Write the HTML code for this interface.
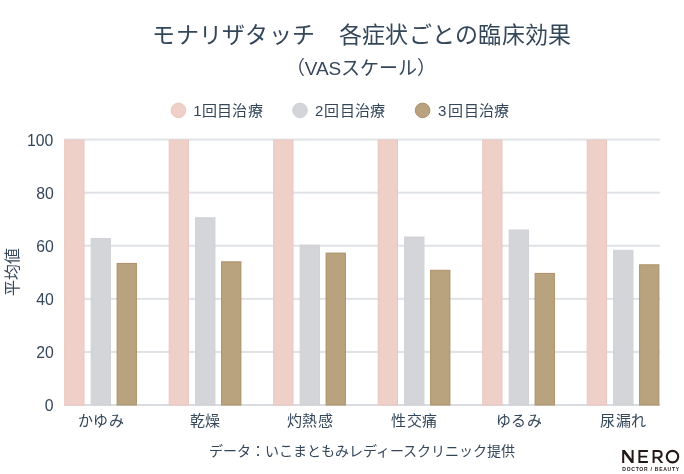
<!DOCTYPE html>
<html lang="zh-CN"><head><meta charset="utf-8">
<style>
html,body{margin:0;padding:0;background:#fff;}
body{width:684px;height:474px;position:relative;overflow:hidden;font-family:"Liberation Sans",sans-serif;color:#34475a;}
.t{position:absolute;white-space:nowrap;}
#txt{position:absolute;left:0;top:0;width:684px;height:474px;will-change:transform;}
#title{left:0;width:724px;top:18.5px;text-align:center;font-size:23px;letter-spacing:0.3px;line-height:32px;}
#sub{left:-1px;width:724px;top:56px;text-align:center;font-size:19px;line-height:26px;}
.lg{position:absolute;top:101px;font-size:15px;line-height:20px;white-space:nowrap;}
.lg span{letter-spacing:0.35px;}
.yl{position:absolute;right:630.5px;font-size:17px;line-height:22px;text-align:right;transform:scaleX(0.93);transform-origin:100% 50%;}
.cl{position:absolute;top:410px;width:113px;text-align:center;font-size:15px;letter-spacing:0.4px;text-indent:0.4px;line-height:22px;white-space:nowrap;}
#yt{position:absolute;left:12.8px;top:272px;font-size:16px;line-height:20px;transform:translate(-50%,-50%) rotate(-90deg);white-space:nowrap;}
#foot{left:0;width:724px;top:441px;text-align:center;font-size:14px;line-height:20px;}
svg{position:absolute;left:0;top:0;}
</style></head><body>
<svg width="684" height="474" viewBox="0 0 684 474">
<rect x="64" y="138.60" width="596" height="2" fill="#dfe2e6"/>
<rect x="64" y="191.68" width="596" height="2" fill="#dfe2e6"/>
<rect x="64" y="244.76" width="596" height="2" fill="#dfe2e6"/>
<rect x="64" y="297.84" width="596" height="2" fill="#dfe2e6"/>
<rect x="64" y="350.92" width="596" height="2" fill="#dfe2e6"/>
<rect x="64" y="404.00" width="596" height="2" fill="#d9dde1"/>
<rect x="64.70" y="140.10" width="19.30" height="264.90" fill="#efd0c9" stroke="#ebc6be" stroke-width="1"/>
<rect x="91.15" y="238.60" width="19.30" height="166.40" fill="#d3d5d9" stroke="#cfd1d5" stroke-width="1"/>
<rect x="117.10" y="263.40" width="19.30" height="141.60" fill="#b9a37f" stroke="#ab9169" stroke-width="1"/>
<rect x="169.20" y="140.10" width="19.30" height="264.90" fill="#efd0c9" stroke="#ebc6be" stroke-width="1"/>
<rect x="195.65" y="217.80" width="19.30" height="187.20" fill="#d3d5d9" stroke="#cfd1d5" stroke-width="1"/>
<rect x="221.60" y="261.80" width="19.30" height="143.20" fill="#b9a37f" stroke="#ab9169" stroke-width="1"/>
<rect x="273.70" y="140.10" width="19.30" height="264.90" fill="#efd0c9" stroke="#ebc6be" stroke-width="1"/>
<rect x="300.15" y="245.20" width="19.30" height="159.80" fill="#d3d5d9" stroke="#cfd1d5" stroke-width="1"/>
<rect x="326.10" y="253.10" width="19.30" height="151.90" fill="#b9a37f" stroke="#ab9169" stroke-width="1"/>
<rect x="378.20" y="140.10" width="19.30" height="264.90" fill="#efd0c9" stroke="#ebc6be" stroke-width="1"/>
<rect x="404.65" y="237.00" width="19.30" height="168.00" fill="#d3d5d9" stroke="#cfd1d5" stroke-width="1"/>
<rect x="430.60" y="270.30" width="19.30" height="134.70" fill="#b9a37f" stroke="#ab9169" stroke-width="1"/>
<rect x="482.70" y="140.10" width="19.30" height="264.90" fill="#efd0c9" stroke="#ebc6be" stroke-width="1"/>
<rect x="509.15" y="230.00" width="19.30" height="175.00" fill="#d3d5d9" stroke="#cfd1d5" stroke-width="1"/>
<rect x="535.10" y="273.40" width="19.30" height="131.60" fill="#b9a37f" stroke="#ab9169" stroke-width="1"/>
<rect x="587.20" y="140.10" width="19.30" height="264.90" fill="#efd0c9" stroke="#ebc6be" stroke-width="1"/>
<rect x="613.65" y="250.30" width="19.30" height="154.70" fill="#d3d5d9" stroke="#cfd1d5" stroke-width="1"/>
<rect x="639.60" y="264.80" width="19.30" height="140.20" fill="#b9a37f" stroke="#ab9169" stroke-width="1"/>
<circle cx="178.45" cy="110.4" r="7.3" fill="#efd0c9" stroke="#ebc6be" stroke-width="1"/>
<circle cx="300.0" cy="110.4" r="7.3" fill="#d3d5d9" stroke="#cfd1d5" stroke-width="1"/>
<circle cx="422.6" cy="110.4" r="7.3" fill="#b9a37f" stroke="#ab9169" stroke-width="1"/>
<g fill="#231815">
<path d="M622.2 462.9 V450 H624.9 L631.6 458.9 V450 H633.6 V462.9 H631.3 L624.2 453.4 V462.9 Z"/>
<path d="M638.4 450 H647.9 V452 H640.4 V455.7 H647.1 V457.6 H640.4 V460.9 H647.9 V462.9 H638.4 Z"/>
<path d="M652.6 450 H658.4 A4.3 4.3 0 0 1 659.6 458.4 L663.3 462.9 H660.8 L657.2 458.6 H654.6 V462.9 H652.6 Z M654.6 452 V456.7 H658.3 A2.35 2.35 0 0 0 658.3 452 Z" fill-rule="evenodd"/>
</g>
<circle cx="672.5" cy="456.6" r="5.75" fill="none" stroke="#231815" stroke-width="2.1"/>
</svg>
<div id="txt">
<div class="t" id="title">モナリザタッチ　各症状ごとの臨床効果</div>
<div class="t" id="sub">（VASスケール）</div>
<div class="lg" style="left:193.3px">1<span style="margin-left:0px">回目治療</span></div>
<div class="lg" style="left:315.1px">2<span style="margin-left:1px">回目治療</span></div>
<div class="lg" style="left:438px">3<span style="margin-left:2px">回目治療</span></div>
<div class="yl" style="top:129.8px">100</div><div class="yl" style="top:182.9px">80</div><div class="yl" style="top:236.0px">60</div><div class="yl" style="top:289.0px">40</div><div class="yl" style="top:342.1px">20</div><div class="yl" style="top:395.2px">0</div>
<div id="yt">平均値</div>
<div class="cl" style="left:44.2px">かゆみ</div><div class="cl" style="left:148.7px">乾燥</div><div class="cl" style="left:253.2px">灼熱感</div><div class="cl" style="left:357.7px">性交痛</div><div class="cl" style="left:462.2px">ゆるみ</div><div class="cl" style="left:566.7px">尿漏れ</div>
<div class="t" id="foot">データ<span lang="zh-TW">：</span>いこまともみレディースクリニック提供</div>
<svg width="684" height="474" style="position:absolute;left:0;top:0"><text transform="translate(622.3 471) scale(0.5)" font-size="10" font-weight="bold" fill="#231815" textLength="113.6" lengthAdjust="spacing" font-family="Liberation Sans, sans-serif">DOCTOR / BEAUTY</text></svg>
</div>
</body></html>
